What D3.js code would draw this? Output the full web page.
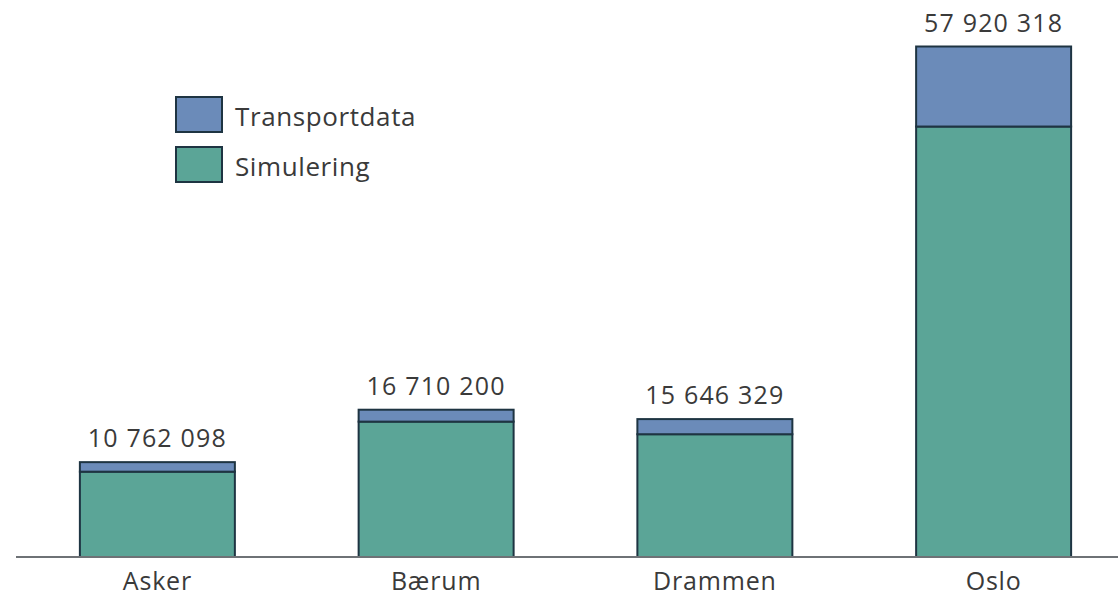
<!DOCTYPE html>
<html>
<head>
<meta charset="utf-8">
<script src="https://cdn.jsdelivr.net/npm/d3@7"></script>
<style>
  body { margin: 0; background: white; }
  text { font-family: "Open Sans", sans-serif; fill: #3a3a3a; }
</style>
</head>
<body>
<svg id="chart" width="1118" height="598"></svg>
<script>
// data
const categories = ["Asker", "Bærum", "Drammen", "Oslo"];
const simulering = [9680000, 15360000, 13930000, 48840000];
const transportdata = [1082098, 1350200, 1716329, 9080318];
const totalLabels = ["10 762 098", "16 710 200", "15 646 329", "57 920 318"];
const seriesNames = ["Transportdata", "Simulering"];

const colors = { Simulering: "#5ba597", Transportdata: "#6b8bb9" };
const strokeCol = "#1e3442";

const svg = d3.select("#chart");
const baseY = 557;

const x = d3.scaleBand().domain(categories).range([18, 1133]).paddingInner(0.444).paddingOuter(0.222);
const y = d3.scaleLinear().domain([0, 57920318]).range([baseY, 46.5]);

const rows = categories.map((c, i) => ({
  cat: c, Simulering: simulering[i], Transportdata: transportdata[i], label: totalLabels[i]
}));
const stack = d3.stack().keys(["Simulering", "Transportdata"])(rows);

svg.append("g").selectAll("g")
  .data(stack)
  .enter().append("g")
  .attr("fill", d => colors[d.key])
  .selectAll("rect")
  .data(d => d)
  .enter().append("rect")
  .attr("x", d => x(d.data.cat))
  .attr("width", x.bandwidth())
  .attr("y", d => y(d[1]))
  .attr("height", d => y(d[0]) - y(d[1]))
  .attr("stroke", strokeCol)
  .attr("stroke-width", 2);

// baseline
svg.append("line")
  .attr("x1", 16).attr("x2", 1118)
  .attr("y1", baseY).attr("y2", baseY)
  .attr("stroke", "#6e7276")
  .attr("stroke-width", 2);

// total labels
svg.selectAll(".total")
  .data(rows)
  .enter().append("text")
  .attr("class", "total")
  .attr("x", d => x(d.cat) + x.bandwidth() / 2)
  .attr("y", d => y(d.Simulering + d.Transportdata) - 15)
  .attr("text-anchor", "middle")
  .attr("font-size", "25px")
  .attr("letter-spacing", "1.2px")
  .text(d => d.label);

// category labels
svg.selectAll(".cat")
  .data(categories)
  .enter().append("text")
  .attr("class", "cat")
  .attr("x", d => x(d) + x.bandwidth() / 2)
  .attr("y", 590)
  .attr("text-anchor", "middle")
  .attr("font-size", "25px")
  .attr("letter-spacing", "0.8px")
  .text(d => d);

// legend
const legend = svg.append("g").attr("transform", "translate(176, 97)");
seriesNames.forEach((name, i) => {
  const g = legend.append("g").attr("transform", `translate(0, ${i * 50})`);
  g.append("rect")
    .attr("width", 46).attr("height", 35)
    .attr("fill", colors[name])
    .attr("stroke", strokeCol)
    .attr("stroke-width", 2);
  g.append("text")
    .attr("x", 59).attr("y", 29)
    .attr("font-size", "26px")
    .attr("letter-spacing", "0.6px")
    .text(name);
});
</script>
</body>
</html>
